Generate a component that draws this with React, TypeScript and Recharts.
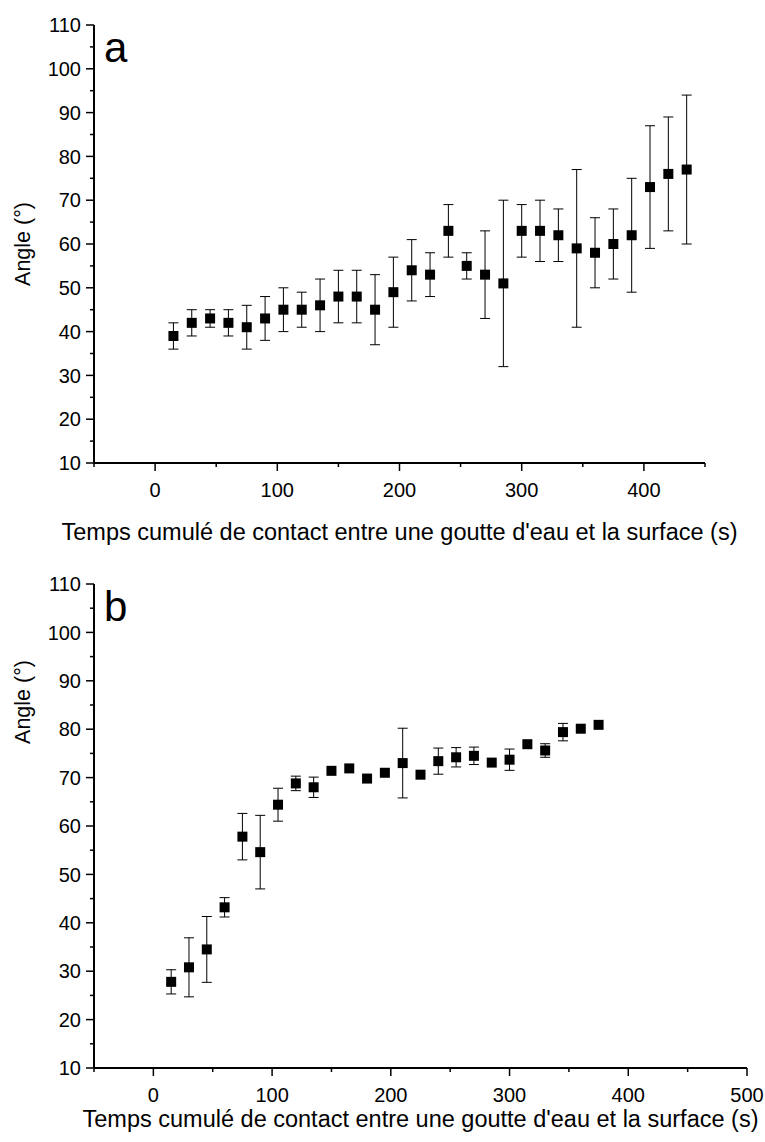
import React from "react";
import { ScatterChart, Scatter, XAxis, YAxis, ErrorBar } from "recharts";

// panel a
const timesA = [15, 30, 45, 60, 75, 90, 105, 120, 135, 150, 165, 180, 195, 210, 225, 240, 255, 270, 285, 300, 315, 330, 345, 360, 375, 390, 405, 420, 435];
const anglesA = [39, 42, 43, 42, 41, 43, 45, 45, 46, 48, 48, 45, 49, 54, 53, 63, 55, 53, 51, 63, 63, 62, 59, 58, 60, 62, 73, 76, 77];
const errorsA = [3, 3, 2, 3, 5, 5, 5, 4, 6, 6, 6, 8, 8, 7, 5, 6, 3, 10, 19, 6, 7, 6, 18, 8, 8, 13, 14, 13, 17];

// panel b
const timesB = [15, 30, 45, 60, 75, 90, 105, 120, 135, 150, 165, 180, 195, 210, 225, 240, 255, 270, 285, 300, 315, 330, 345, 360, 375];
const anglesB = [27.8, 30.8, 34.5, 43.2, 57.8, 54.6, 64.4, 68.8, 68.0, 71.4, 71.9, 69.8, 71.0, 73.0, 70.6, 73.4, 74.2, 74.5, 73.1, 73.7, 76.9, 75.6, 79.4, 80.1, 80.9];
const errorsB = [2.5, 6.1, 6.8, 2.0, 4.8, 7.6, 3.4, 1.5, 2.1, 0, 0, 0, 0, 7.2, 0, 2.7, 2.0, 1.8, 0, 2.2, 0, 1.4, 1.8, 0, 0];

const xTicksA = [-50, 0, 50, 100, 150, 200, 250, 300, 350, 400, 450];
const xTicksB = [-50, 0, 50, 100, 150, 200, 250, 300, 350, 400, 450, 500];
const yTicks = [10, 15, 20, 25, 30, 35, 40, 45, 50, 55, 60, 65, 70, 75, 80, 85, 90, 95, 100, 105, 110];

const xTitle = "Temps cumulé de contact entre une goutte d'eau et la surface (s)";
const yTitle = "Angle (°)";

const dataA = timesA.map((t, i) => ({ time: t, angle: anglesA[i], err: errorsA[i] }));
const dataB = timesB.map((t, i) => ({ time: t, angle: anglesB[i], err: errorsB[i] }));

const XTick = (props: any) => {
  const { x, y, payload } = props;
  const major = payload.value % 100 === 0;
  return (
    <g>
      <line x1={x} y1={y} x2={x} y2={y + (major ? 8 : 4)} stroke="#000" strokeWidth={1.5} />
      {major && (
        <text x={x} y={y + 34} textAnchor="middle" fontSize={20} fill="#000">
          {payload.value}
        </text>
      )}
    </g>
  );
};

const YTick = (props: any) => {
  const { x, y, payload } = props;
  const major = payload.value % 10 === 0;
  return (
    <g>
      <line x1={x - (major ? 8 : 4)} y1={y} x2={x} y2={y} stroke="#000" strokeWidth={1.5} />
      {major && (
        <text x={x - 13} y={y} dy="0.36em" textAnchor="end" fontSize={20} fill="#000">
          {payload.value}
        </text>
      )}
    </g>
  );
};

const XTitle = ({ viewBox, drop }: any) => {
  const { x, y, width } = viewBox;
  return (
    <text x={x + width / 2} y={y + drop} textAnchor="middle" fontSize={23.5} fill="#000">
      {xTitle}
    </text>
  );
};

// y title plus the panel letter
const YTitle = ({ viewBox, shift, letter }: any) => {
  const { x, y, width, height } = viewBox;
  const cx = x + 22;
  const cy = y + height / 2 + shift;
  return (
    <g>
      <text x={cx} y={cy} dy="0.36em" textAnchor="middle" fontSize={21.5} fill="#000" transform={`rotate(-90 ${cx} ${cy})`}>
        {yTitle}
      </text>
      <text x={x + width + 10} y={y + 37} fontSize={42} fill="#000">
        {letter}
      </text>
    </g>
  );
};

const Square = (props: any) => (
  <rect x={props.cx - 5} y={props.cy - 5} width={10} height={10} fill="#000" />
);

const axisStyle = { stroke: "#000", strokeWidth: 2 };

export default function App() {
  return (
    <div
      style={{
        position: "absolute",
        left: 0,
        top: 0,
        width: 765,
        height: 1142,
        background: "#fff",
        fontFamily: '"Liberation Sans", Arial, sans-serif',
      }}
    >
      <div style={{ position: "absolute", left: 0, top: 0 }}>
        <ScatterChart width={765} height={560} margin={{ top: 25, right: 60, bottom: 0, left: 0 }}>
          <XAxis
            type="number"
            dataKey="time"
            domain={[-50, 450]}
            ticks={xTicksA}
            interval={0}
            allowDataOverflow
            height={97}
            tick={<XTick />}
            tickLine={false}
            tickSize={0}
            tickMargin={0}
            axisLine={axisStyle}
            label={<XTitle drop={77} />}
          />
          <YAxis
            type="number"
            dataKey="angle"
            domain={[10, 110]}
            ticks={yTicks}
            interval={0}
            allowDataOverflow
            width={94}
            tick={<YTick />}
            tickLine={false}
            tickSize={0}
            tickMargin={0}
            axisLine={axisStyle}
            label={<YTitle shift={0} letter="a" />}
          />
          <Scatter data={dataA} shape={<Square />} isAnimationActive={false}>
            <ErrorBar dataKey="err" direction="y" width={5} stroke="#000" strokeWidth={1} isAnimationActive={false} />
          </Scatter>
        </ScatterChart>
      </div>
      <div style={{ position: "absolute", left: 0, top: 560 }}>
        <ScatterChart width={765} height={582} margin={{ top: 24, right: 18, bottom: 0, left: 0 }}>
          <XAxis
            type="number"
            dataKey="time"
            domain={[-50, 500]}
            ticks={xTicksB}
            interval={0}
            allowDataOverflow
            height={74}
            tick={<XTick />}
            tickLine={false}
            tickSize={0}
            tickMargin={0}
            axisLine={axisStyle}
            label={<XTitle drop={59} />}
          />
          <YAxis
            type="number"
            dataKey="angle"
            domain={[10, 110]}
            ticks={yTicks}
            interval={0}
            allowDataOverflow
            width={94}
            tick={<YTick />}
            tickLine={false}
            tickSize={0}
            tickMargin={0}
            axisLine={axisStyle}
            label={<YTitle shift={-124} letter="b" />}
          />
          <Scatter data={dataB} shape={<Square />} isAnimationActive={false}>
            <ErrorBar dataKey="err" direction="y" width={5} stroke="#000" strokeWidth={1} isAnimationActive={false} />
          </Scatter>
        </ScatterChart>
      </div>
    </div>
  );
}
